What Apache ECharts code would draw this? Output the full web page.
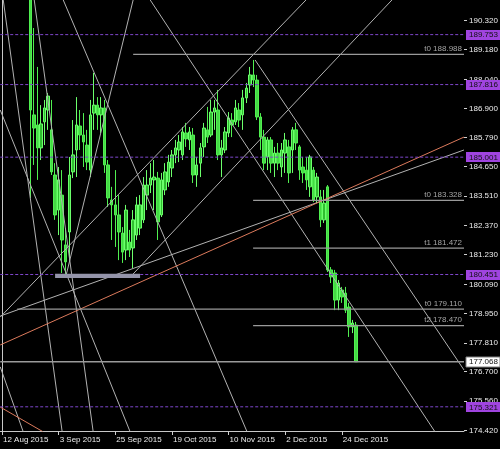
<!DOCTYPE html>
<html><head><meta charset="utf-8">
<script src="https://cdn.jsdelivr.net/npm/echarts@6/dist/echarts.min.js"></script>
<style>html,body{margin:0;padding:0;background:#000;}#c{width:500px;height:449px;}</style>
</head><body><div id="c"></div>
<script>
// ---------------- data ----------------
const firstDate = [2015, 7, 12];      // 12 Aug 2015 (weekday bars)
const totalSlots = 131;               // bar slots across the plot (incl. empty right margin)
const firstBar = 8;                   // first bar drawn (24 Aug 2015)
const lastBar = 100;
const labelStep = 16;

const opens = [
 191.90,186.64,186.25,185.36,186.37,186.83,186.06,184.31,182.95,183.53,
 181.60,182.10,184.43,185.28,186.21,185.86,185.47,184.50,186.71,187.02,
 186.64,186.91,184.70,183.34,183.15,182.76,182.06,181.40,181.71,181.48,
 181.98,182.25,182.57,183.53,183.92,184.12,184.19,182.76,183.73,184.04,
 184.58,185.09,185.28,185.09,185.94,185.67,185.86,184.31,184.77,185.40,
 186.06,185.86,186.75,186.83,185.09,185.28,185.94,186.44,186.37,186.83,
 186.64,187.30,187.80,188.19,187.99,186.56,185.78,185.01,185.67,184.77,
 185.16,184.62,185.16,185.40,185.28,186.06,185.40,184.62,184.50,183.85,
 184.50,183.46,183.46,182.57,183.85,180.63,180.51,179.46,179.85,179.73,
 179.19,178.42,178.49];
const closes = [
 186.83,186.13,185.36,186.29,186.91,187.37,184.43,182.76,184.12,181.79,
 180.94,184.31,185.09,186.25,185.86,185.59,184.81,186.64,187.02,186.64,
 186.91,184.70,183.42,183.15,182.76,182.10,181.32,182.95,181.40,182.57,
 183.15,183.15,183.92,183.92,184.19,184.23,182.49,184.12,184.43,184.81,
 185.09,185.36,185.59,185.98,185.71,185.98,184.31,184.70,185.36,186.13,
 185.78,186.75,186.91,185.09,185.36,185.98,186.52,186.25,186.91,186.44,
 187.30,187.68,188.19,187.99,186.56,185.78,184.77,185.67,184.77,185.16,
 184.77,185.28,185.67,184.39,186.06,185.55,184.50,184.39,184.12,185.01,
 183.34,184.23,182.57,183.22,180.63,180.36,179.46,180.12,179.58,179.07,
 178.42,178.57,177.068];
const lows = [
 183.42,184.70,184.12,184.89,185.47,186.06,184.31,182.57,181.98,180.51,
 180.47,180.94,184.19,184.23,185.28,184.62,184.50,184.23,186.06,186.06,
 185.94,184.39,183.07,181.79,181.52,181.01,180.90,181.01,181.13,180.70,
 181.79,181.98,182.45,182.95,183.61,182.95,181.79,182.68,183.53,183.85,
 184.23,184.77,184.81,184.89,185.40,185.28,184.00,183.85,184.23,185.01,
 185.55,185.78,186.06,184.89,184.23,185.16,185.78,185.78,186.25,186.17,
 186.06,187.10,187.49,187.72,186.44,185.28,184.50,184.50,184.39,184.23,
 184.50,184.23,184.39,184.00,184.39,185.28,184.12,184.00,183.73,183.46,
 183.26,183.22,182.29,182.45,180.55,180.12,179.07,179.07,179.35,178.96,
 178.03,178.18,177.068];
const highs = [
 192.50,190.01,188.50,187.02,187.22,187.49,187.22,184.77,184.62,184.50,
 182.25,185.01,186.44,187.33,186.83,186.71,186.06,187.22,188.27,187.33,
 187.33,187.22,184.89,183.85,184.50,183.53,182.29,183.15,182.18,182.95,
 183.46,183.53,184.23,184.50,184.77,184.89,184.43,184.39,184.77,185.09,
 185.28,185.67,185.86,186.17,186.33,186.17,186.13,185.01,185.55,186.33,
 186.95,187.22,187.22,187.61,185.67,186.17,186.75,186.71,187.22,187.10,
 187.61,187.88,188.50,188.77,188.19,186.71,186.06,185.78,185.78,185.40,
 185.55,185.55,185.94,185.67,186.17,186.33,185.47,185.01,185.01,185.09,
 184.62,184.39,183.73,183.73,183.92,180.74,180.63,180.24,179.97,179.97,
 179.35,178.69,178.61];

const yTickLabels = ['190.320','189.180','188.040','186.900','185.790','184.650','183.510',
 '182.370','181.230','180.090','178.950','177.810','176.700','175.560','174.420'];

const purpleLevels = [189.753, 187.816, 185.001, 180.451, 175.321];
const currentPrice = 177.068;

// horizontal target lines
const targetStarts = [37.05, 70.93, 70.93, 4.3, 70.93];
const targetPrices = [188.988, 183.328, 181.472, 179.110, 178.470];
const targetNames  = ['t0', 't0', 't1', 't0', 't2'];

// trend / fan lines: [bar1, price1, bar2, price2]
const greyLines = [
 [0.35, 191.10, 17.00, 174.35],
 [9.10, 191.10, 25.76, 174.35],
 [17.29, 191.10, 69.23, 174.35],
 [18.13, 180.43, 37.05, 191.10],
 [-0.5, 178.80, 85.89, 191.10],
 [36.20, 180.35, 110.17, 191.10],
 [-0.5, 178.84, 130.5, 185.28],
 [71.49, 188.77, 130.5, 176.75],
 [41.85, 191.10, 122.31, 174.35],
 [-0.5, 176.87, 6.0, 174.35],
 [-0.5, 186.83, 36.2, 174.35]
];
const salmonLines = [
 [-0.5, 177.72, 130.5, 185.78],
 [-0.5, 175.31, 11.64, 174.35]
];
// zone rectangle at the September low: [bar1, price1, bar2, price2]
const lowZone = [15.0, 180.48, 39.0, 180.32];

// ---------------- build ----------------
const months = ['Jan','Feb','Mar','Apr','May','Jun','Jul','Aug','Sep','Oct','Nov','Dec'];
const dates = [];
const d = new Date(Date.UTC(firstDate[0], firstDate[1], firstDate[2]));
while (dates.length < totalSlots) {
  const wd = d.getUTCDay();
  if (wd !== 0 && wd !== 6) dates.push(d.getUTCDate() + ' ' + months[d.getUTCMonth()] + ' ' + d.getUTCFullYear());
  d.setUTCDate(d.getUTCDate() + 1);
}
const candles = [];
for (let i = 0; i < totalSlots; i++) {
  const k = i - firstBar;
  if (k >= 0 && k < opens.length) candles.push([opens[k], closes[k], lows[k], highs[k]]);
  else candles.push('-');
}
const xMin = -0.5, xMax = totalSlots - 0.5;
const yMin = 174.383, yMax = 191.0955;
const FONT = '8px "Liberation Sans", Arial, sans-serif';
const showIdx = (i) => i % labelStep === 0 && i <= lastBar;

const series = [];
series.push({
  type: 'candlestick', xAxisIndex: 0, yAxisIndex: 0, data: candles, barWidth: 3, z: 2,
  silent: true, animation: false,
  itemStyle: { color: '#2fbf2f', color0: '#45d845', borderColor: '#6cff6c', borderColor0: '#50f050', borderWidth: 1 }
});
function lineSeries(pts, color, width, type, z) {
  return { type: 'line', xAxisIndex: 1, yAxisIndex: 0, data: pts, symbol: 'none', silent: true,
    animation: false, z: z || 3, lineStyle: { color: color, width: width, type: type || 'solid' } };
}
greyLines.forEach(l => series.push(lineSeries([[l[0], l[1]], [l[2], l[3]]], '#b2b2b2', 1)));
salmonLines.forEach(l => series.push(lineSeries([[l[0], l[1]], [l[2], l[3]]], '#dc7a5c', 1)));
purpleLevels.forEach(v => series.push(lineSeries([[xMin, v], [xMax, v]], '#7e46cc', 1, [3, 2])));
targetPrices.forEach((v, i) => series.push(lineSeries([[targetStarts[i], v], [xMax, v]], '#9a9a9a', 1.3)));
series.push(lineSeries([[xMin, currentPrice], [xMax, currentPrice]], '#9a9a9a', 1.3));

// zone rectangle
series.push({
  type: 'custom', xAxisIndex: 1, yAxisIndex: 0, silent: true, animation: false, z: 4,
  data: [lowZone],
  renderItem: (params, api) => {
    const p1 = api.coord([api.value(0), api.value(1)]);
    const p2 = api.coord([api.value(2), api.value(3)]);
    return { type: 'rect', shape: { x: p1[0], y: p1[1], width: p2[0] - p1[0], height: p2[1] - p1[1] },
      style: { fill: '#9494aa' } };
  }
});
// target labels
series.push({
  type: 'custom', xAxisIndex: 1, yAxisIndex: 0, silent: true, animation: false, z: 6, clip: false,
  data: targetPrices.map(v => [xMax, v]),
  renderItem: (params, api) => {
    const p = api.coord([api.value(0), api.value(1)]);
    const i = params.dataIndex;
    return { type: 'text', x: p[0] - 2, y: p[1] - 1.5,
      style: { text: targetNames[i] + ' ' + targetPrices[i].toFixed(3), fill: '#a6a6a6', font: FONT, align: 'right', verticalAlign: 'bottom' } };
  }
});
// y-axis ticks and labels
series.push({
  type: 'custom', xAxisIndex: 1, yAxisIndex: 0, silent: true, animation: false, z: 6, clip: false,
  data: yTickLabels.map(t => [xMax, parseFloat(t)]),
  renderItem: (params, api) => {
    const p = api.coord([api.value(0), api.value(1)]);
    const yy = Math.round(p[1]) + 0.5;
    return { type: 'group', children: [
      { type: 'line', shape: { x1: p[0], y1: yy, x2: p[0] + 3, y2: yy }, style: { stroke: '#d0d0d0', lineWidth: 1 } },
      { type: 'text', x: p[0] + 5, y: p[1] + 0.5,
        style: { text: yTickLabels[params.dataIndex], fill: '#ececec', font: FONT, align: 'left', verticalAlign: 'middle' } }
    ] };
  }
});
// price boxes on axis
series.push({
  type: 'custom', xAxisIndex: 1, yAxisIndex: 0, silent: true, animation: false, z: 7, clip: false,
  data: purpleLevels.map(v => [xMax, v, 0]).concat([[xMax, currentPrice, 1]]),
  renderItem: (params, api) => {
    const p = api.coord([api.value(0), api.value(1)]);
    const white = api.value(2) === 1;
    const v = api.value(1);
    return { type: 'group', children: [
      { type: 'rect', shape: { x: p[0] + 2, y: Math.round(p[1]) - 5, width: 34, height: 10 },
        style: white ? { fill: '#ffffff', stroke: '#808080', lineWidth: 1 } : { fill: '#a044e0' } },
      { type: 'text', x: p[0] + 5, y: p[1] + 0.5,
        style: { text: v.toFixed(3), fill: '#111', font: FONT, align: 'left', verticalAlign: 'middle' } }
    ] };
  }
});

const chart = echarts.init(document.getElementById('c'), null, { renderer: 'canvas' });
chart.setOption({
  backgroundColor: '#000000',
  animation: false,
  grid: { left: 0, top: 0, right: 36, bottom: 18, containLabel: false },
  xAxis: [
    { type: 'category', data: dates, boundaryGap: true,
      axisLine: { show: true, lineStyle: { color: '#c8c8c8', width: 1 } },
      axisTick: { show: true, alignWithLabel: true, interval: showIdx, length: 4, lineStyle: { color: '#d0d0d0' } },
      axisLabel: { show: true, interval: showIdx, color: '#ececec', fontSize: 8, fontFamily: '"Liberation Sans", Arial, sans-serif',
        align: 'left', margin: 5, padding: [0, 0, 0, 1] },
      splitLine: { show: false } },
    { type: 'value', min: xMin, max: xMax, show: false, splitLine: { show: false } }
  ],
  yAxis: [
    { type: 'value', position: 'right', min: yMin, max: yMax, scale: true,
      axisLine: { show: true, lineStyle: { color: '#c8c8c8', width: 1 } },
      axisTick: { show: false }, axisLabel: { show: false }, splitLine: { show: false } }
  ],
  series: series
});
</script>
</body></html>
